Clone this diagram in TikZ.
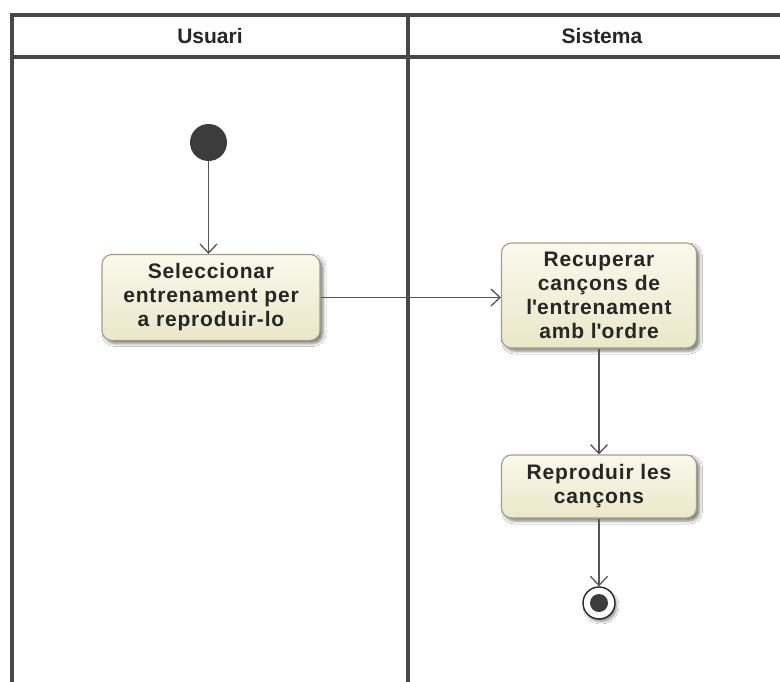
\documentclass[tikz,border=0pt]{standalone}
\usepackage{fontspec}
\setmainfont{Liberation Sans}
\usetikzlibrary{arrows.meta,shadows.blur}
\definecolor{laneline}{HTML}{484848}
\definecolor{flowline}{HTML}{555555}
\definecolor{actborder}{HTML}{A09F82}
\definecolor{acttop}{HTML}{FAF9EC}
\definecolor{actbottom}{HTML}{EAE7C9}
\definecolor{dot}{HTML}{3C3C3C}
\newcommand{\actfont}{\fontsize{21}{24}\selectfont\bfseries\addfontfeature{LetterSpace=4}}
\tikzset{
  lane/.style={draw=laneline, line width=3.3pt},
  actbox/.style={draw=actborder, line width=1.1pt, rounded corners=10pt,
    top color=acttop, bottom color=actbottom, align=center,
    font=\actfont, text=black!85,
    inner sep=0pt,
    blur shadow={shadow xshift=3pt, shadow yshift=-3pt, shadow blur radius=3pt, shadow opacity=50}},
  flow/.style={draw=flowline, line width=1.3pt,
    -{Straight Barb[length=9pt, width=17pt, line width=1.3pt]}},
  lanetitle/.style={font=\fontsize{21}{24}\selectfont\bfseries, text=black!85}
}
\begin{document}
\begin{tikzpicture}[x=1pt, y=-1pt]
  \useasboundingbox (0,0) rectangle (780,682);
  \fill[white] (0,0) rectangle (780,682);

  % swimlane frame (runs past the right and bottom edges)
  \begin{scope}
    \clip (0,0) rectangle (780,682);
    \draw[lane] (12,690) -- (12,15) -- (800,15);
    \draw[lane] (12,57) -- (800,57);
    \draw[lane] (408,15) -- (408,690);
  \end{scope}
  \node[lanetitle] (lusr) at (210,36) {Usuari};
  \node[lanetitle] (lsys) at (602,36) {Sistema};

  % initial and final nodes
  \node[circle, fill=dot, minimum size=37pt, inner sep=0pt] (start) at (208.5,142.5) {};
  \node[circle, draw=black!85, line width=1.4pt, fill=white, minimum size=32pt, inner sep=0pt,
        blur shadow={shadow xshift=2pt, shadow yshift=-3pt, shadow blur radius=2pt, shadow opacity=40}] (stop) at (599,603) {};
  \fill[dot] (stop.center) circle (9pt);

  % actions
  \node[actbox, minimum width=218pt, minimum height=86pt] (sel) at (211,297.5)
    {Seleccionar\\entrenament per\\a reproduir-lo};
  \node[actbox, minimum width=195pt, minimum height=105pt] (rec) at (599,295.5)
    {Recuperar\\cançons de\\l\textquotesingle entrenament\\amb l\textquotesingle ordre};
  \node[actbox, minimum width=195pt, minimum height=63pt] (rep) at (599,486.5)
    {Reproduir les\\cançons};

  % control flow
  \draw[flow] (start) -- (start |- sel.north);
  \draw[flow] (sel.east |- 0,297.5) -- (rec.west |- 0,297.5);
  \draw[flow] (rec.south) -- (rep.north);
  \draw[flow] (rep.south) -- (stop.north);
\end{tikzpicture}
\end{document}
